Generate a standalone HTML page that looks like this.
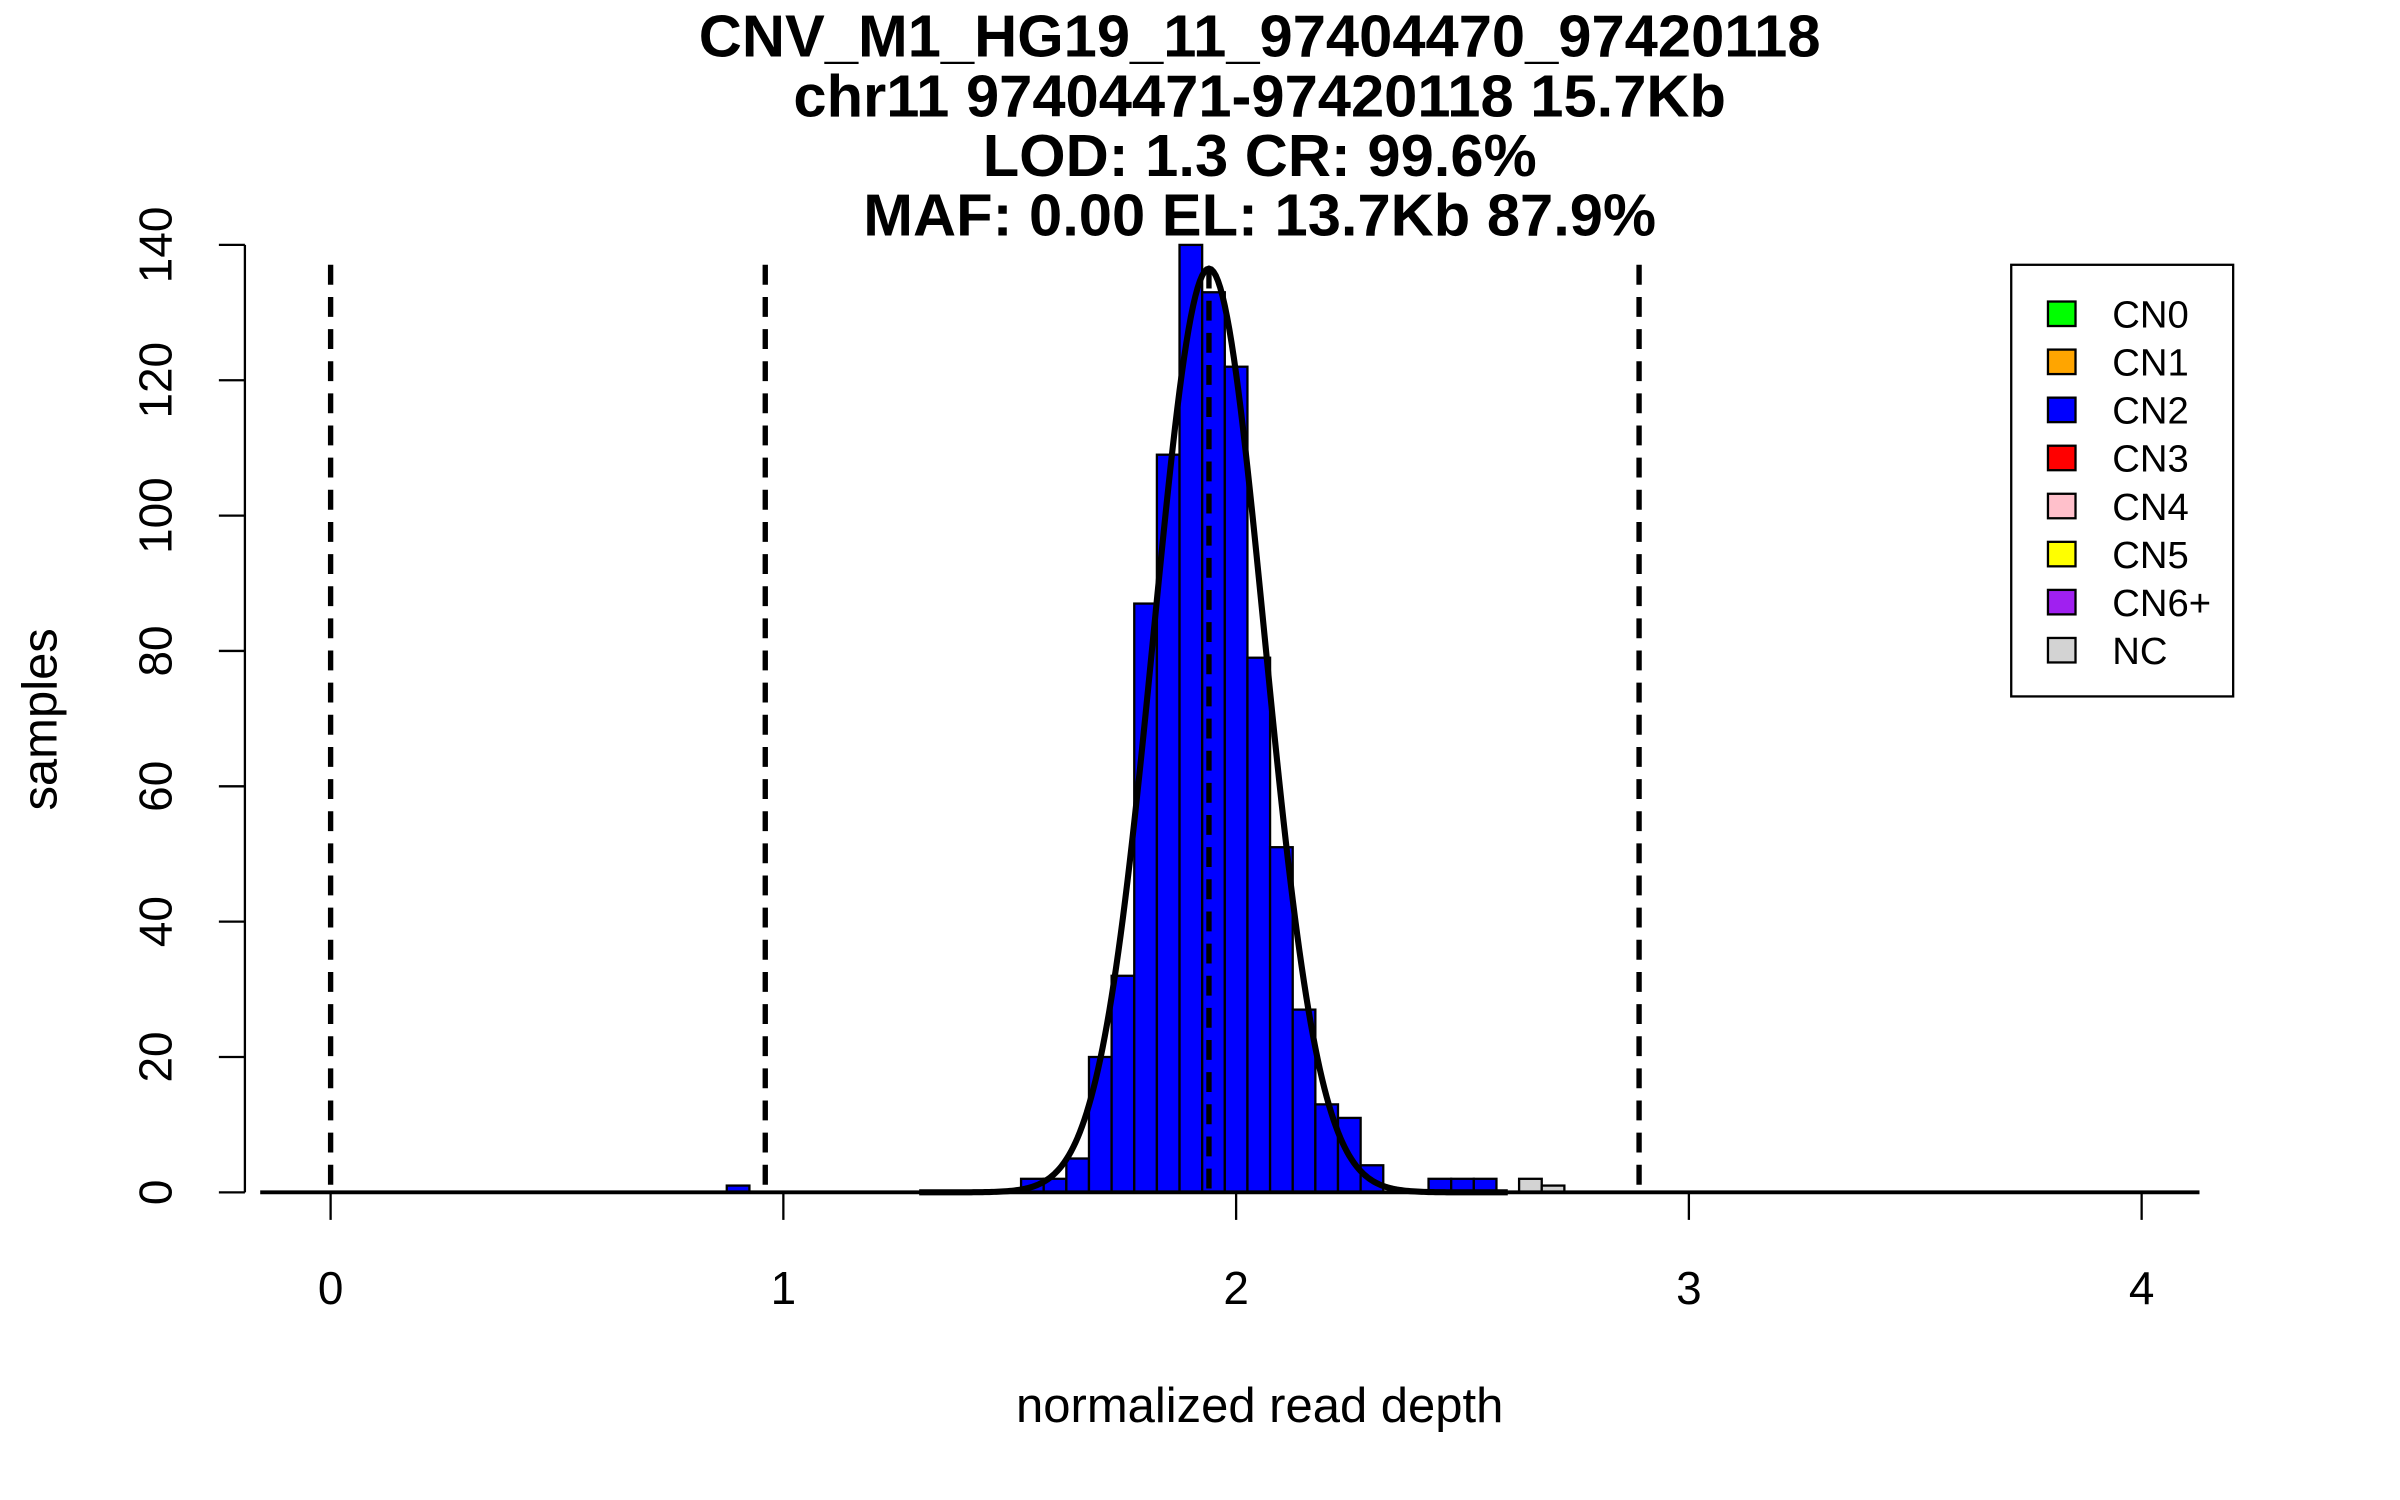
<!DOCTYPE html>
<html><head><meta charset="utf-8"><style>
html,body{margin:0;padding:0;background:#fff;}
svg{display:block;}
text{font-family:"Liberation Sans",sans-serif;}
</style></head><body>
<svg id="chart" width="2400" height="1500" viewBox="0 0 1568 980" preserveAspectRatio="none" xmlns="http://www.w3.org/2000/svg">
<g font-weight="bold" font-size="39" text-anchor="middle">
<text x="823" y="37">CNV_M1_HG19_11_97404470_97420118</text>
<text x="823" y="76">chr11 97404471-97420118 15.7Kb</text>
<text x="823" y="115">LOD: 1.3 CR: 99.6%</text>
<text x="823" y="154">MAF: 0.00 EL: 13.7Kb 87.9%</text>
</g>
<text x="823" y="929" font-size="32" text-anchor="middle">normalized read depth</text>
<text x="37" y="470" font-size="32" text-anchor="middle" transform="rotate(-90 37 470)">samples</text>
<g id="axes"></g>
<g id="bars"></g>
<g id="lines"></g>
<g id="legend"></g>
</svg>
<script>
const binStarts = [0.875,1.525,1.575,1.625,1.675,1.725,1.775,1.825,1.875,1.925,1.975,2.025,2.075,2.125,2.175,2.225,2.275,2.425,2.475,2.525,2.625,2.675];
const binCounts = [1,2,2,5,20,32,87,109,140,133,122,79,51,27,13,11,4,2,2,2,2,1];
const binColors = ["blue","blue","blue","blue","blue","blue","blue","blue","blue","blue","blue","blue","blue","blue","blue","blue","blue","blue","blue","blue","#d3d3d3","#d3d3d3"];
const binWidth = 0.05;
const xTicks = [0,1,2,3,4];
const yTicks = [0,20,40,60,80,100,120,140];
const cutoffs = [0,0.96,2.89];
const fitMean = [1.94];
const fitSd = [0.122];
const fitPeak = [136.5];
const legendLabels = ["CN0","CN1","CN2","CN3","CN4","CN5","CN6+","NC"];
const legendColors = ["#00ff00","orange","blue","red","pink","yellow","#a020f0","#d3d3d3"];

const NS="http://www.w3.org/2000/svg";
const X = v => 216 + v*295.8;
const Y = v => 779 - v*(619/140);
function mk(tag, attrs, parent){const e=document.createElementNS(NS,tag);for(const k in attrs)e.setAttribute(k,attrs[k]);parent.appendChild(e);return e;}
const axes=document.getElementById('axes'), bars=document.getElementById('bars'), lines=document.getElementById('lines'), legend=document.getElementById('legend');

let yl = mk('line',{x1:160,x2:160,y1:Y(140),y2:Y(0),stroke:'#000','stroke-width':1.5},axes);


yTicks.forEach(t=>{
  const l=mk('line',{x1:143,x2:160,y1:Y(t),y2:Y(t),stroke:'#000','stroke-width':1.5},axes);
  
  
  const tx=mk('text',{x:112,y:Y(t),'font-size':30,'text-anchor':'middle',transform:`rotate(-90 112 ${Y(t)})`},axes);
  tx.textContent=t;
  
  
});
xTicks.forEach(t=>{
  const l=mk('line',{x1:X(t),x2:X(t),y1:779,y2:797,stroke:'#000','stroke-width':1.5},axes);
  
  
  const tx=mk('text',{x:X(t),y:852,'font-size':30,'text-anchor':'middle'},axes);
  tx.textContent=t;
  
  
});
binStarts.forEach((s,i)=>{
  const r=mk('rect',{x:X(s),y:Y(binCounts[i]),width:X(s+binWidth)-X(s),height:Y(0)-Y(binCounts[i]),fill:binColors[i],stroke:'#000','stroke-width':1.5},bars);
  
  
});
let bl=mk('line',{x1:170,x2:1437,y1:779,y2:779,stroke:'#000','stroke-width':2.5},lines);


cutoffs.forEach(c=>{
  const l=mk('line',{x1:X(c),x2:X(c),y1:173,y2:779,stroke:'#000','stroke-width':3.5,'stroke-dasharray':'13 8'},lines);
  
  
});
let ml=mk('line',{x1:X(fitMean[0]),x2:X(fitMean[0]),y1:Y(fitPeak[0]),y2:779,stroke:'#000','stroke-width':3.5,'stroke-dasharray':'13 8'},lines);


let d='';
for(let v=1.3; v<=2.6; v+=0.005){
  const y=fitPeak[0]*Math.exp(-0.5*Math.pow((v-fitMean[0])/fitSd[0],2));
  d+=(d?'L':'M')+X(v).toFixed(2)+' '+Y(y).toFixed(2);
}
let fp=mk('path',{d:d,fill:'none',stroke:'#000','stroke-width':4},lines);


let lb=mk('rect',{x:1314,y:173,width:145,height:282,fill:'#fff',stroke:'#000','stroke-width':1.5},legend);


legendLabels.forEach((lab,i)=>{
  const cy=205+i*31.4;
  const g=mk('g',{},legend);
  
  
  mk('rect',{x:1338,y:cy-8,width:18,height:16,fill:legendColors[i],stroke:'#000','stroke-width':1.5},g);
  const t=mk('text',{x:1380,y:cy+9,'font-size':25},g);
  t.textContent=lab;
});
</script>
</body></html>
